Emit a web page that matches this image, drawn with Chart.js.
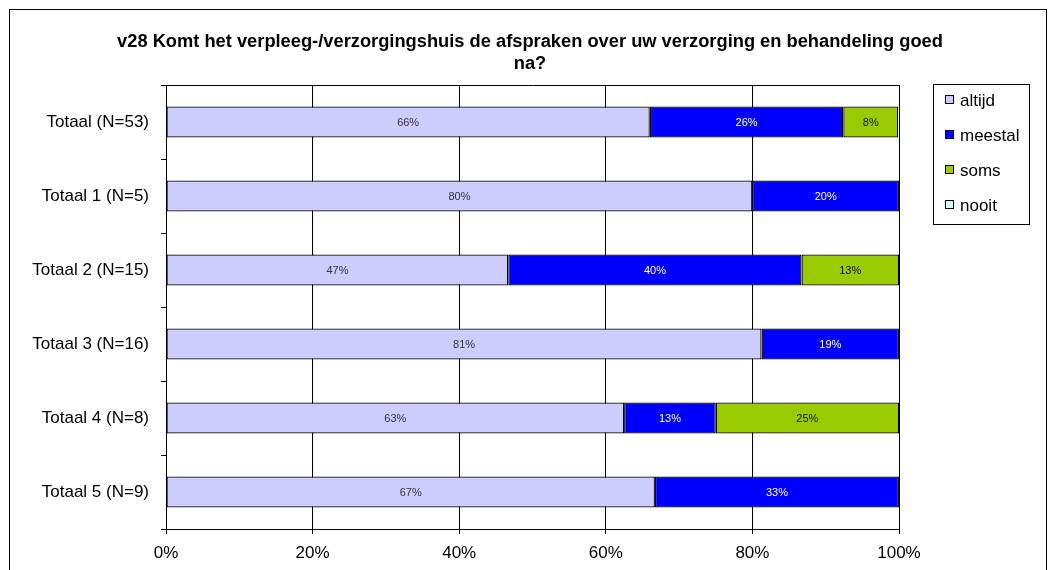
<!DOCTYPE html>
<html>
<head>
<meta charset="utf-8">
<script src="https://cdn.jsdelivr.net/npm/chart.js@4/dist/chart.umd.min.js"></script>
<style>
  html, body { margin: 0; padding: 0; background: #fff; }
  #wrap { width: 1054px; height: 570px; position: relative; }
</style>
</head>
<body>
<div id="wrap"><canvas id="c" width="1054" height="570"></canvas></div>
<script>
const titleLines = ["v28 Komt het verpleeg-/verzorgingshuis de afspraken over uw verzorging en behandeling goed", "na?"];
const categories = ["Totaal (N=53)", "Totaal 1 (N=5)", "Totaal 2 (N=15)", "Totaal 3 (N=16)", "Totaal 4 (N=8)", "Totaal 5 (N=9)"];
const seriesNames = ["altijd", "meestal", "soms", "nooit"];
const altijd  = [66.0, 80.0, 46.7, 81.25, 62.5, 66.7];
const meestal = [26.4, 20.0, 40.0, 18.75, 12.5, 33.3];
const soms    = [7.5, 0, 13.3, 0, 25.0, 0];
const nooit   = [0, 0, 0, 0, 0, 0];
const xTicks  = [0, 20, 40, 60, 80, 100];

const colors = ["#CCCCFF", "#0000FF", "#99CC00", "#CCFFFF"];
const labelColors = ["#333333", "#FFFFFF", "#111111", "#111111"];
const FONT = "'Liberation Sans', Arial, sans-serif";

const frame = {
  id: 'frame',
  beforeDraw(chart) {
    const ctx = chart.ctx;
    ctx.save();
    ctx.fillStyle = '#fff';
    ctx.fillRect(0, 0, chart.width, chart.height);
    ctx.strokeStyle = '#000';
    ctx.lineWidth = 1;
    ctx.strokeRect(9.5, 9.5, 1037, 700);
    ctx.fillStyle = '#000';
    ctx.font = "bold 18.3px " + FONT;
    ctx.textAlign = 'center';
    ctx.textBaseline = 'middle';
    ctx.fillText(titleLines[0], 530, 42);
    ctx.fillText(titleLines[1], 530, 64);
    ctx.restore();
  },
  afterDraw(chart) {
    const ctx = chart.ctx;
    const a = chart.chartArea;
    ctx.save();
    ctx.strokeStyle = '#000';
    ctx.lineWidth = 1;
    ctx.beginPath();
    ctx.moveTo(a.left, Math.round(a.top) + 0.5);
    ctx.lineTo(a.right, Math.round(a.top) + 0.5);
    ctx.stroke();
    ctx.strokeRect(933.5, 84.5, 96, 140);
    ctx.font = "17px " + FONT;
    ctx.textAlign = 'left';
    ctx.textBaseline = 'middle';
    chart.data.datasets.forEach((ds, i) => {
      const y = 100 + i * 35;
      ctx.fillStyle = ds.backgroundColor;
      ctx.fillRect(945, y - 5, 9, 9);
      ctx.strokeStyle = '#000';
      ctx.strokeRect(945.5, y - 4.5, 8, 8);
      ctx.fillStyle = '#000';
      ctx.fillText(ds.label, 960, y + 1);
    });
    ctx.restore();
  },
  afterDatasetsDraw(chart) {
    const ctx = chart.ctx;
    ctx.save();
    ctx.font = "11px " + FONT;
    ctx.textAlign = 'center';
    ctx.textBaseline = 'middle';
    chart.data.datasets.forEach((ds, di) => {
      const meta = chart.getDatasetMeta(di);
      meta.data.forEach((el, i) => {
        const v = ds.data[i];
        if (!v) return;
        ctx.fillStyle = labelColors[di];
        ctx.fillText(Math.round(v) + '%', (el.x + el.base) / 2, el.y + 1);
      });
    });
    ctx.restore();
  }
};

const seriesData = [altijd, meestal, soms, nooit];

new Chart(document.getElementById('c'), {
  type: 'bar',
  data: {
    labels: categories,
    datasets: seriesNames.map((n, i) => ({
      label: n,
      data: seriesData[i],
      backgroundColor: colors[i],
      borderColor: '#000',
      borderWidth: c => (c.raw ? 1.3 : 0),
      borderSkipped: false,
      categoryPercentage: 1,
      barPercentage: 0.42
    }))
  },
  options: {
    indexAxis: 'y',
    responsive: false,
    animation: false,
    events: [],
    layout: { padding: { left: 0, right: 155, top: 85, bottom: 0 } },
    plugins: { legend: { display: false }, title: { display: false }, tooltip: { enabled: false } },
    scales: {
      x: {
        stacked: true,
        min: 0, max: 100,
        afterBuildTicks(scale) { scale.ticks = xTicks.map(v => ({ value: v })); },
        afterFit(scale) { scale.height = 41; },
        grid: { color: '#000', lineWidth: 1, tickLength: 5, drawTicks: true },
        border: { display: true, color: '#000', width: 1 },
        ticks: { color: '#000', font: { family: FONT, size: 17 }, padding: 9, callback: v => v + '%', maxRotation: 0 }
      },
      y: {
        stacked: true,
        afterFit(scale) { scale.width = 166; },
        grid: { offset: true, drawOnChartArea: false, color: '#000', tickLength: 5 },
        border: { display: true, color: '#000', width: 1 },
        ticks: { color: '#000', font: { family: FONT, size: 17 }, padding: 12 }
      }
    }
  },
  plugins: [frame]
});
</script>
</body>
</html>
